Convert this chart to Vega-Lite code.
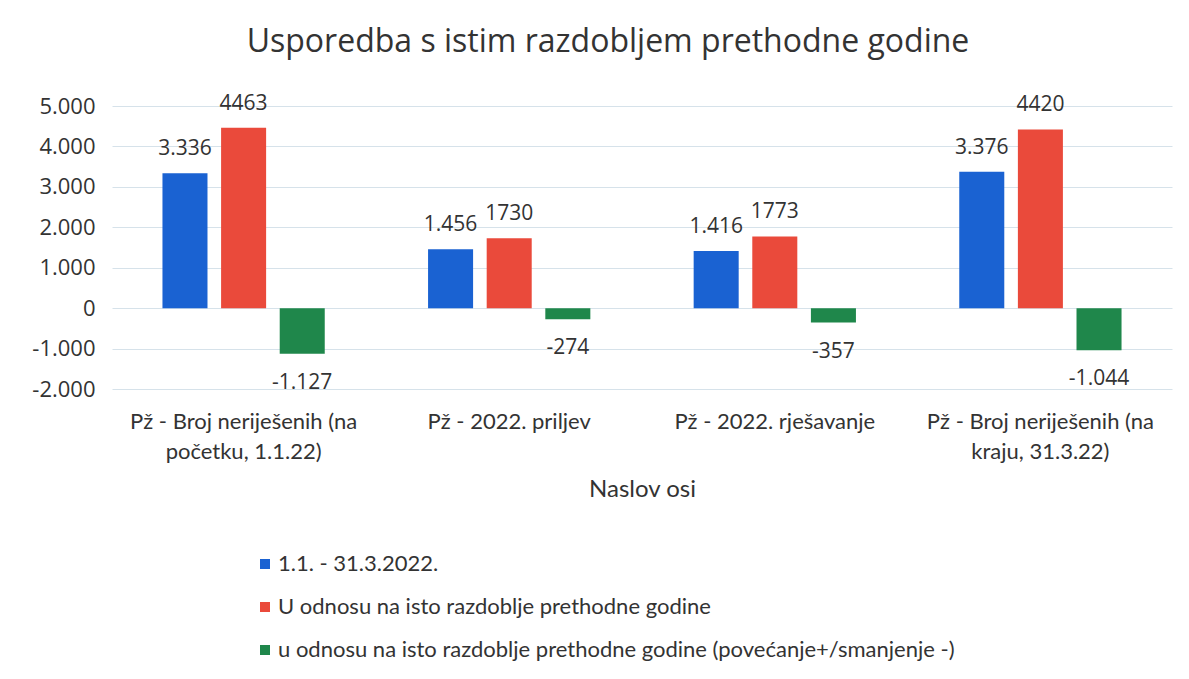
{
  "$schema": "https://vega.github.io/schema/vega-lite/v6.json",
  "autosize": "none",
  "width": 1060,
  "height": 283,
  "padding": {"left": 112, "top": 106, "right": 17, "bottom": 290},
  "background": "white",
  "title": {
    "text": "Usporedba s istim razdobljem prethodne godine",
    "font": "Open Sans",
    "fontSize": 32,
    "fontWeight": "normal",
    "color": "#333333",
    "anchor": "middle",
    "dx": -34,
    "offset": 34
  },
  "data": {
    "values": [
      {"kategorija": "Pž - Broj neriješenih (na početku, 1.1.22)", "serija": "1.1. - 31.3.2022.", "red": 1, "vrijednost": 3336, "oznaka": "3.336"},
      {"kategorija": "Pž - Broj neriješenih (na početku, 1.1.22)", "serija": "U odnosu na isto razdoblje prethodne godine", "red": 2, "vrijednost": 4463, "oznaka": "4463"},
      {"kategorija": "Pž - Broj neriješenih (na početku, 1.1.22)", "serija": "u odnosu na isto razdoblje prethodne godine (povećanje+/smanjenje -)", "red": 3, "vrijednost": -1127, "oznaka": "-1.127"},
      {"kategorija": "Pž - 2022. priljev", "serija": "1.1. - 31.3.2022.", "red": 1, "vrijednost": 1456, "oznaka": "1.456"},
      {"kategorija": "Pž - 2022. priljev", "serija": "U odnosu na isto razdoblje prethodne godine", "red": 2, "vrijednost": 1730, "oznaka": "1730"},
      {"kategorija": "Pž - 2022. priljev", "serija": "u odnosu na isto razdoblje prethodne godine (povećanje+/smanjenje -)", "red": 3, "vrijednost": -274, "oznaka": "-274"},
      {"kategorija": "Pž - 2022. rješavanje", "serija": "1.1. - 31.3.2022.", "red": 1, "vrijednost": 1416, "oznaka": "1.416"},
      {"kategorija": "Pž - 2022. rješavanje", "serija": "U odnosu na isto razdoblje prethodne godine", "red": 2, "vrijednost": 1773, "oznaka": "1773"},
      {"kategorija": "Pž - 2022. rješavanje", "serija": "u odnosu na isto razdoblje prethodne godine (povećanje+/smanjenje -)", "red": 3, "vrijednost": -357, "oznaka": "-357"},
      {"kategorija": "Pž - Broj neriješenih (na kraju, 31.3.22)", "serija": "1.1. - 31.3.2022.", "red": 1, "vrijednost": 3376, "oznaka": "3.376"},
      {"kategorija": "Pž - Broj neriješenih (na kraju, 31.3.22)", "serija": "U odnosu na isto razdoblje prethodne godine", "red": 2, "vrijednost": 4420, "oznaka": "4420"},
      {"kategorija": "Pž - Broj neriješenih (na kraju, 31.3.22)", "serija": "u odnosu na isto razdoblje prethodne godine (povećanje+/smanjenje -)", "red": 3, "vrijednost": -1044, "oznaka": "-1.044"}
    ]
  },
  "encoding": {
    "x": {
      "field": "kategorija",
      "type": "nominal",
      "sort": null,
      "scale": {"paddingInner": 0.389, "paddingOuter": 0.19},
      "axis": {
        "title": "Naslov osi",
        "titleFont": "Lato",
        "titleFontSize": 24,
        "titleFontWeight": "normal",
        "titleColor": "#333333",
        "titlePadding": 15,
        "labelAngle": 0,
        "labelFont": "Lato",
        "labelFontSize": 22,
        "labelColor": "#333333",
        "labelPadding": 22,
        "labelLineHeight": 30,
        "labelLimit": 400,
        "labelExpr": "datum.value == 'Pž - Broj neriješenih (na početku, 1.1.22)' ? ['Pž - Broj neriješenih (na', 'početku, 1.1.22)'] : datum.value == 'Pž - Broj neriješenih (na kraju, 31.3.22)' ? ['Pž - Broj neriješenih (na', 'kraju, 31.3.22)'] : datum.value",
        "ticks": false,
        "domain": false,
        "grid": false
      }
    },
    "xOffset": {
      "field": "serija",
      "type": "nominal",
      "sort": {"field": "red"},
      "scale": {"paddingInner": 0.232, "paddingOuter": 0}
    },
    "y": {
      "field": "vrijednost",
      "type": "quantitative",
      "scale": {"domain": [-2000, 5000], "nice": false},
      "axis": {
        "title": null,
        "values": [-2000, -1000, 0, 1000, 2000, 3000, 4000, 5000],
        "labelExpr": "datum.value == 0 ? '0' : (datum.value < 0 ? '-' : '') + toString(abs(datum.value) / 1000) + '.000'",
        "labelFont": "Open Sans",
        "labelFontSize": 22,
        "labelColor": "#333333",
        "labelPadding": 17,
        "ticks": false,
        "domain": false,
        "grid": true,
        "gridColor": "#d6e2ea",
        "gridWidth": 1
      }
    }
  },
  "layer": [
    {
      "mark": {"type": "bar"},
      "encoding": {
        "color": {
          "field": "serija",
          "type": "nominal",
          "sort": {"field": "red"},
          "scale": {
            "domain": ["1.1. - 31.3.2022.", "U odnosu na isto razdoblje prethodne godine", "u odnosu na isto razdoblje prethodne godine (povećanje+/smanjenje -)"],
            "range": ["#1a62d2", "#ea4a3b", "#1f874b"]
          },
          "legend": {
            "title": null,
            "orient": "none",
            "direction": "vertical",
            "legendX": 142,
            "legendY": 447,
            "symbolType": "square",
            "symbolSize": 100,
            "symbolStrokeWidth": 0,
            "labelFont": "Lato",
            "labelFontSize": 22,
            "labelColor": "#333333",
            "labelOffset": 2,
            "labelLimit": 900,
            "rowPadding": 21
          }
        }
      }
    },
    {
      "transform": [{"filter": "datum.vrijednost >= 0"}],
      "mark": {"type": "text", "baseline": "middle", "dy": -24, "font": "Open Sans", "fontSize": 21, "color": "#333333"},
      "encoding": {"text": {"field": "oznaka"}}
    },
    {
      "transform": [{"filter": "datum.vrijednost < 0"}],
      "mark": {"type": "text", "baseline": "middle", "dy": 29, "font": "Open Sans", "fontSize": 21, "color": "#333333"},
      "encoding": {"text": {"field": "oznaka"}}
    }
  ],
  "config": {"view": {"stroke": null}}
}
